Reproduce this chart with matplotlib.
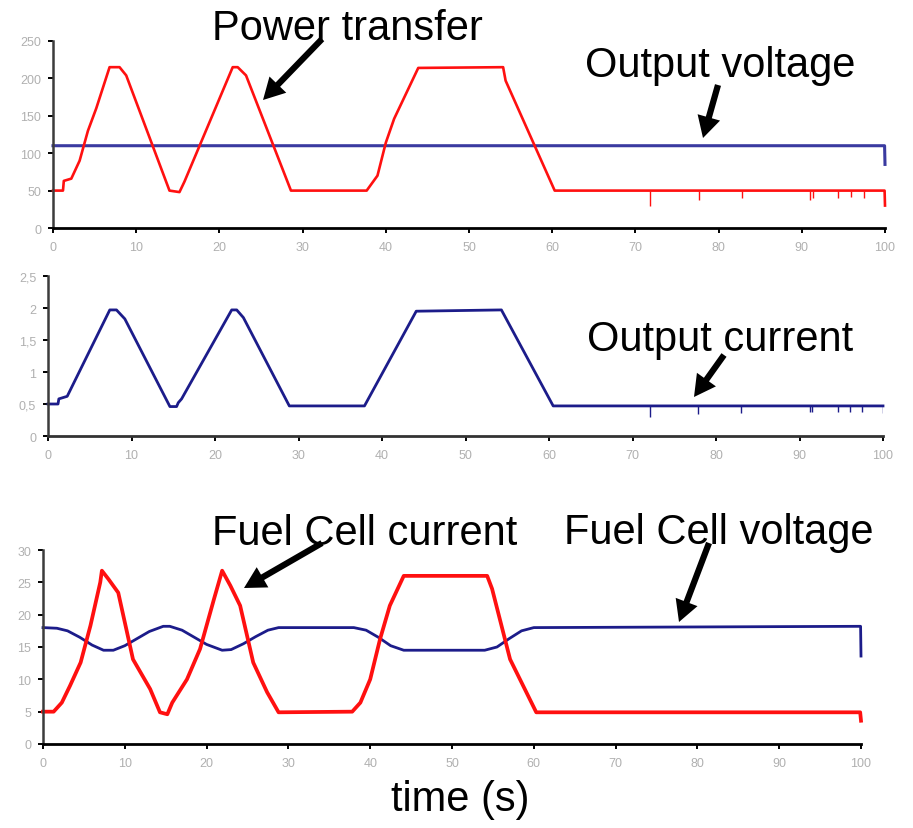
import matplotlib
matplotlib.use("Agg")
import matplotlib.pyplot as plt
from matplotlib.patches import FancyArrowPatch
from matplotlib.ticker import FuncFormatter

plt.rcParams['font.family'] = ['Liberation Sans', 'DejaVu Sans']

# ---- Power transfer (W) and output voltage (V) ----
power_t = [0, 1.2, 1.3, 2.2, 3.2, 4.2, 5.2, 6.8, 8.0, 8.8, 14.0, 15.2, 15.8,
           21.6, 22.2, 23.2, 28.6, 37.7, 39.0, 40.0, 41.0, 43.9, 54.1, 54.4,
           60.3, 99.95, 100]
power_w = [50, 50, 63, 66, 90, 130, 160, 215, 215, 204, 50, 48, 62,
           215, 215, 204, 50, 50, 70, 114, 146, 214, 215, 197,
           50, 50, 30]
power_dip_t = [71.8, 77.6, 82.8, 91.0, 91.4, 94.3, 95.9, 97.5]
power_dip_w = [30, 37, 40, 38, 40, 40, 41, 40]

vout_t = [0, 99.95, 100]
vout_v = [110, 110, 85]

# ---- Output current (A) ----
iout_t = [0, 1.2, 1.3, 2.3, 7.4, 8.2, 9.2, 14.6, 15.4, 15.6, 16.0, 22.0, 22.6,
          23.4, 28.9, 37.9, 44.1, 54.3, 60.5, 100]
iout_a = [0.5, 0.5, 0.58, 0.62, 1.97, 1.97, 1.83, 0.46, 0.46, 0.52, 0.58, 1.97,
          1.97, 1.85, 0.47, 0.47, 1.95, 1.97, 0.47, 0.47]
iout_dip_t = [72.1, 77.9, 83.0, 91.2, 91.5, 94.6, 96.0, 97.5, 100]
iout_dip_a = [0.29, 0.34, 0.36, 0.38, 0.38, 0.38, 0.38, 0.38, 0.36]

# ---- Fuel cell current (A) and voltage (V) ----
fci_t = [0, 1.3, 2.3, 3.3, 4.6, 5.8, 7.0, 7.2, 8.0, 9.2, 11.0, 13.1, 14.3,
         15.2, 15.8, 17.6, 19.2, 20.9, 21.9, 22.9, 24.1, 25.7, 27.4, 28.8,
         37.8, 38.8, 40.0, 41.2, 42.4, 44.1, 54.3, 54.9, 57.1, 60.3, 99.9, 100]
fci_a = [5, 5, 6.4, 9, 12.6, 18.3, 25, 26.8, 25.5, 23.4, 13.1, 8.5, 4.9,
         4.6, 6.4, 10, 14.7, 22.4, 26.8, 24.5, 21.4, 12.6, 8, 4.9,
         5, 6.4, 10, 16.2, 21.4, 26, 26, 24, 13.1, 4.9, 4.9, 3.6]

fcv_t = [0, 1.7, 3.0, 4.5, 6.0, 7.4, 8.6, 10.0, 11.5, 13.0, 14.7, 15.5, 17.0,
         18.5, 20.0, 21.9, 23.0, 24.5, 26.0, 27.5, 28.8, 38.0, 39.5, 41.0,
         42.5, 44.1, 54.0, 55.5, 57.0, 58.5, 60.0, 99.95, 100]
fcv_v = [18, 17.9, 17.5, 16.5, 15.3, 14.5, 14.5, 15.2, 16.3, 17.4, 18.2, 18.2,
         17.6, 16.5, 15.4, 14.5, 14.6, 15.5, 16.6, 17.6, 18.0, 18.0, 17.6, 16.5,
         15.2, 14.5, 14.5, 15.0, 16.3, 17.5, 18.0, 18.2, 13.6]

x_ticks = list(range(0, 101, 10))
top_yticks = [0, 50, 100, 150, 200, 250]
mid_yticks = [0, 0.5, 1, 1.5, 2, 2.5]
bot_yticks = [0, 5, 10, 15, 20, 25, 30]

W, H = 913, 829
RED = '#ff1010'
NAVY = '#1c1c8a'
LABEL_GREY = '#b0b0b0'

fig = plt.figure(figsize=(W / 100, H / 100), dpi=100)


def box(left, top, right, bottom):
    return [left / W, 1 - bottom / H, (right - left) / W, (bottom - top) / H]


def style(ax, yticks, ymax, bottom_color='black'):
    ax.set_xlim(0, 100)
    ax.set_ylim(0, ymax)
    ax.set_xticks(x_ticks)
    ax.set_yticks(yticks)
    ax.yaxis.set_major_formatter(
        FuncFormatter(lambda v, p: ('%g' % v).replace('.', ',')))
    for s in ('top', 'right'):
        ax.spines[s].set_visible(False)
    ax.spines['left'].set_color('#3c3c3c')
    ax.spines['left'].set_linewidth(1.8)
    ax.spines['bottom'].set_color(bottom_color)
    ax.spines['bottom'].set_linewidth(2.0)
    ax.tick_params(axis='both', direction='out', length=3.5, width=1.4,
                   color='black', labelcolor=LABEL_GREY, labelsize=9)
    ax.tick_params(axis='x', pad=6)
    ax.tick_params(axis='y', pad=5)


ax1 = fig.add_axes(box(53, 42, 885, 229))
ax1.plot(vout_t, vout_v, color='#3a3aa0', lw=2.2, clip_on=False)
ax1.plot(power_t, power_w, color=RED, lw=1.9, clip_on=False)
ax1.vlines(power_dip_t, power_dip_w, 50, color=RED, lw=1.0)
style(ax1, top_yticks, 250)

ax2 = fig.add_axes(box(48, 277, 883, 437))
ax2.plot(iout_t, iout_a, color=NAVY, lw=2.0, clip_on=False)
ax2.vlines(iout_dip_t, iout_dip_a, 0.47, color=NAVY, lw=1.0)
style(ax2, mid_yticks, 2.5, bottom_color='#333333')

ax3 = fig.add_axes(box(43, 551, 861, 745))
ax3.plot(fcv_t, fcv_v, color=NAVY, lw=2.0, clip_on=False)
ax3.plot(fci_t, fci_a, color=RED, lw=2.7, clip_on=False)
style(ax3, bot_yticks, 30)


def fp(x, y):
    return (x / W, 1 - y / H)


labels = [
    ("Power transfer", 212, 40),
    ("Output voltage", 585, 77),
    ("Output current", 587, 351),
    ("Fuel Cell current", 212, 545),
    ("Fuel Cell voltage", 564, 544),
    ("time (s)", 391, 811),
]
for text, x, y in labels:
    fig.text(*fp(x, y), text, fontsize=30, ha='left', va='baseline',
             color='black')

arrows = [
    ((322, 40), (263, 101)),
    ((718, 86), (703, 139)),
    ((724, 356), (694, 398)),
    ((322, 544), (244, 589)),
    ((709, 544), (679, 623)),
]
for (x0, y0), (x1, y1) in arrows:
    fig.add_artist(FancyArrowPatch(
        fp(x0, y0), fp(x1, y1), transform=fig.transFigure,
        arrowstyle='simple,head_length=0.55,head_width=0.6,tail_width=0.16',
        mutation_scale=28, color='black', lw=0, shrinkA=0, shrinkB=0))

fig.savefig('out.png', dpi=100, facecolor='white')
